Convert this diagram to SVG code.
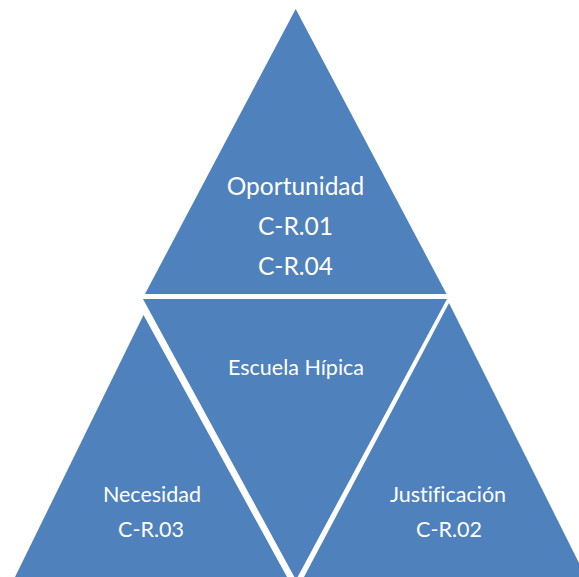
<svg xmlns="http://www.w3.org/2000/svg" width="579" height="577" viewBox="0 0 579 577">
<style>
.tri{fill:#4F81BD;}
.t{fill:#FFFFFF;font-family:Lato,"Open Sans","Liberation Sans",sans-serif;text-anchor:middle;font-variant-ligatures:none;}
.big{font-size:24.5px;}
.sm{font-size:21.5px;}
</style>
<rect width="579" height="577" fill="#FFFFFF"/>
<g id="top">
<polygon class="tri" points="295.7,9 145,294 446.5,294"/>
<text class="t big" x="295.5" y="195">Oportunidad</text>
<text class="t big" x="295.5" y="235">C-R.01</text>
<text class="t big" x="295.5" y="275">C-R.04</text>
</g>
<g id="center">
<polygon class="tri" points="143,299 447,299 296,580"/>
<text class="t sm" x="296" y="375">Escuela Hípica</text>
</g>
<g id="left">
<polygon class="tri" points="143.5,315 15,577 287,577"/>
<text class="t sm" x="152" y="502">Necesidad</text>
<text class="t sm" x="151" y="537">C-R.03</text>
</g>
<g id="right">
<polygon class="tri" points="449,303 304,577 586,577"/>
<text class="t sm" x="448" y="502">Justificación</text>
<text class="t sm" x="449" y="537">C-R.02</text>
</g>
<g id="connectors"></g>
</svg>
